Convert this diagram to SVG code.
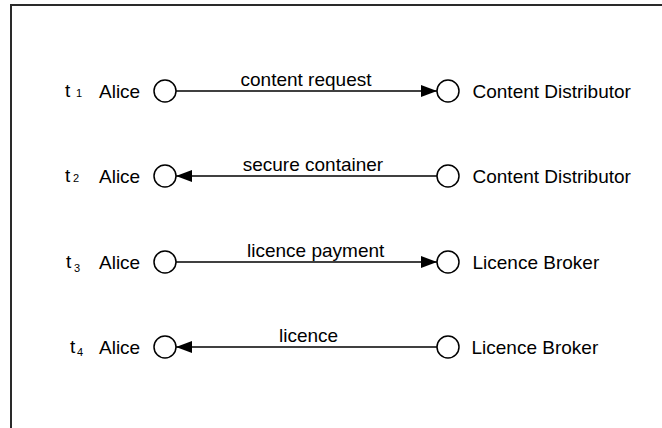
<svg xmlns="http://www.w3.org/2000/svg" width="662" height="428" viewBox="0 0 662 428">
  <style>
    .frame { fill: none; stroke: #2a2a2a; stroke-width: 2; }
    .port { fill: #fff; stroke: #000; stroke-width: 1.5; }
    .msg { fill: none; stroke: #000; stroke-width: 1.5; marker-end: url(#arrow); }
    text { font-family: "Liberation Sans", Arial, sans-serif; font-size: 19px; fill: #000; }
    .sub { font-size: 11px; }
  </style>
  <defs>
    <marker id="arrow" markerUnits="userSpaceOnUse" markerWidth="16" markerHeight="12" refX="16" refY="6" orient="auto">
      <path d="M0,0 L16,6 L0,12 z" fill="#000"/>
    </marker>
  </defs>

  <rect width="662" height="428" fill="#fff"/>
  <path class="frame" d="M11,428 V5 H662"/>

  <!-- time step labels -->
  <g id="time-labels">
    <text x="65" y="97">t<tspan class="sub" x="76" y="97">1</tspan></text>
    <text x="65" y="182">t<tspan class="sub" x="73" y="182">2</tspan></text>
    <text x="66" y="268">t<tspan class="sub" x="74" y="272">3</tspan></text>
    <text x="70" y="353">t<tspan class="sub" x="77" y="356">4</tspan></text>
  </g>

  <!-- step 1 -->
  <g id="alice-1">
    <text x="99" y="97.5">Alice</text>
    <circle class="port" cx="165" cy="91" r="11"/>
  </g>
  <g id="distributor-1">
    <circle class="port" cx="448" cy="91" r="11"/>
    <text x="472.5" y="97.5">Content Distributor</text>
  </g>

  <!-- step 2 -->
  <g id="alice-2">
    <text x="99" y="182.5">Alice</text>
    <circle class="port" cx="165" cy="176" r="11"/>
  </g>
  <g id="distributor-2">
    <circle class="port" cx="448" cy="176" r="11"/>
    <text x="472.5" y="182.5">Content Distributor</text>
  </g>

  <!-- step 3 -->
  <g id="alice-3">
    <text x="99" y="268.5">Alice</text>
    <circle class="port" cx="165" cy="262" r="11"/>
  </g>
  <g id="broker-3">
    <circle class="port" cx="448" cy="262" r="11"/>
    <text x="472.5" y="268.5">Licence Broker</text>
  </g>

  <!-- step 4 -->
  <g id="alice-4">
    <text x="99" y="353.5">Alice</text>
    <circle class="port" cx="165" cy="347" r="11"/>
  </g>
  <g id="broker-4">
    <circle class="port" cx="448" cy="347" r="11"/>
    <text x="471.5" y="353.5">Licence Broker</text>
  </g>

  <!-- messages -->
  <g id="connectors">
    <line class="msg" x1="176" y1="91" x2="437" y2="91"/>
    <text x="240.5" y="86">content request</text>
    <line class="msg" x1="437" y1="176" x2="176" y2="176"/>
    <text x="242.7" y="171">secure container</text>
    <line class="msg" x1="176" y1="262" x2="437" y2="262"/>
    <text x="247" y="257">licence payment</text>
    <line class="msg" x1="437" y1="347" x2="176" y2="347"/>
    <text x="279" y="342">licence</text>
  </g>
</svg>
